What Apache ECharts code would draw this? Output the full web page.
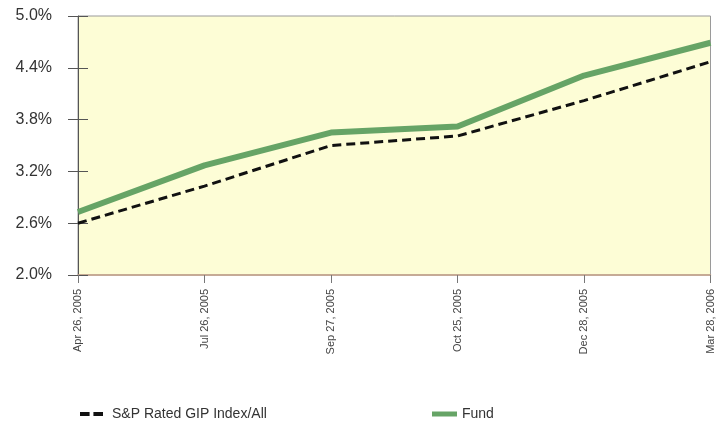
<!DOCTYPE html>
<html>
<head>
<meta charset="utf-8">
<script src="https://cdn.jsdelivr.net/npm/echarts@6/dist/echarts.min.js"></script>
<style>
  html, body { margin: 0; padding: 0; background: #fff; }
  #chart { width: 716px; height: 421px; }
</style>
</head>
<body>
<div id="chart"></div>
<script>
// Observation dates on the horizontal axis
const dates = ['Apr 26, 2005', 'Jul 26, 2005', 'Sep 27, 2005', 'Oct 25, 2005', 'Dec 28, 2005', 'Mar 28, 2006'];
// Yields in percent
const indexYield = [2.60, 3.03, 3.50, 3.61, 4.02, 4.47];
const fundYield = [2.73, 3.27, 3.65, 3.72, 4.31, 4.69];
// Vertical axis range and step
const yMin = 2.0, yMax = 5.0, yStep = 0.6;

const indexName = 'S&P Rated GIP Index/All';
const fundName = 'Fund';

const chart = echarts.init(document.getElementById('chart'));
const font = 'Arial, "Liberation Sans", sans-serif';

chart.setOption({
  animation: false,
  grid: {
    left: 78, right: 4, top: 16, bottom: 146,
    show: true,
    backgroundColor: '#fdfdd6',
    borderColor: '#9a9a9a',
    borderWidth: 1
  },
  legend: [
    {
      data: [{ name: indexName, icon: 'path://M0,0h10v4h-10z M14,0h10v4h-10z' }],
      left: 75, top: 402,
      itemWidth: 23, itemHeight: 4,
      itemStyle: { color: '#111' },
      textStyle: { fontFamily: font, fontSize: 14, color: '#333', padding: [0, 0, 0, 4] }
    },
    {
      data: [{ name: fundName, icon: 'rect' }],
      left: 427, top: 402,
      itemWidth: 25, itemHeight: 5,
      itemStyle: { color: '#66a466' },
      textStyle: { fontFamily: font, fontSize: 14, color: '#333', padding: [0, 0, 0, 0] }
    }
  ],
  xAxis: {
    type: 'category',
    data: dates,
    boundaryGap: false,
    axisLine: { lineStyle: { color: '#c4a088', width: 1.5 } },
    axisTick: { show: true, length: 8, lineStyle: { color: '#777' } },
    axisLabel: {
      rotate: 90, margin: 14,
      fontFamily: font, fontSize: 11, color: '#444',
      interval: 0
    },
    splitLine: { show: false }
  },
  yAxis: [
    {
      type: 'value',
      min: yMin, max: yMax, interval: yStep,
      axisLine: { show: true, lineStyle: { color: '#555', width: 1 } },
      axisTick: { show: true, length: 10, lineStyle: { color: '#555' } },
      axisLabel: {
        margin: 26,
        fontFamily: font, fontSize: 16, color: '#333',
        formatter: v => v.toFixed(1) + '%'
      },
      splitLine: { show: false }
    },
    {
      type: 'value',
      position: 'left',
      min: yMin, max: yMax, interval: yStep,
      axisLine: { show: false },
      axisTick: { show: true, inside: true, length: 10, lineStyle: { color: '#555' } },
      axisLabel: { show: false },
      splitLine: { show: false }
    }
  ],
  series: [
    {
      name: fundName,
      type: 'line',
      data: fundYield,
      showSymbol: false,
      symbol: 'none',
      lineStyle: { color: '#66a466', width: 6 },
      itemStyle: { color: '#66a466' },
      z: 3
    },
    {
      name: indexName,
      type: 'line',
      data: indexYield,
      showSymbol: false,
      symbol: 'none',
      lineStyle: { color: '#111', width: 3, type: [9, 5] },
      itemStyle: { color: '#111' },
      z: 4
    }
  ]
});
</script>
</body>
</html>
